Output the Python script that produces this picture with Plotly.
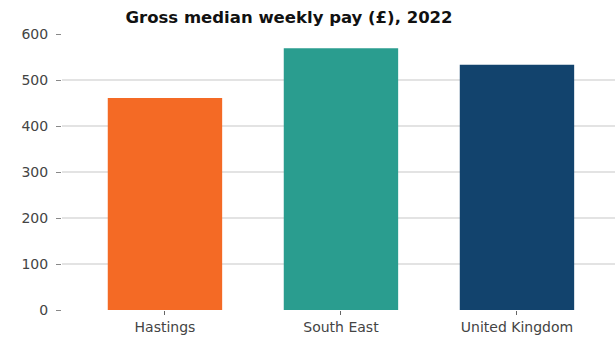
import plotly.graph_objects as go

# Gross median weekly pay, 2022 (£)
areas = ["Hastings", "South East", "United Kingdom"]
weekly_pay = [461, 569, 533]
bar_colours = ["#F46A25", "#2A9D8F", "#12436D"]
y_ticks = [0, 100, 200, 300, 400, 500, 600]

fig = go.Figure(
    go.Bar(
        x=areas,
        y=weekly_pay,
        marker=dict(color=bar_colours, line=dict(width=0)),
        width=0.65,
    )
)

fig.update_layout(
    width=615,
    height=341,
    margin=dict(l=62, r=0, t=34, b=31),
    paper_bgcolor="white",
    plot_bgcolor="white",
    font=dict(family="DejaVu Sans", size=14, color="#444444"),
    title=dict(
        text="<b>Gross median weekly pay (£), 2022</b>",
        font=dict(family="DejaVu Sans", size=16.5, color="#111111"),
        x=0.47,
        xanchor="center",
        y=0.95,
        yanchor="middle",
    ),
    showlegend=False,
    bargap=0.35,
)

fig.update_xaxes(
    range=[-0.585, 2.557],
    showgrid=False,
    showline=False,
    zeroline=False,
    ticks="outside",
    ticklen=4,
    tickcolor="#666666",
    tickfont=dict(size=14, color="#444444"),
)

fig.update_yaxes(
    range=[0, 600],
    tickvals=y_ticks,
    showgrid=True,
    gridcolor="#e3e3e3",
    gridwidth=1.5,
    zeroline=False,
    showline=False,
    ticks="outside",
    ticklen=5,
    tickcolor="#888888",
    ticklabelstandoff=5,
    tickfont=dict(size=14, color="#444444"),
)

fig.write_html("out.html")
